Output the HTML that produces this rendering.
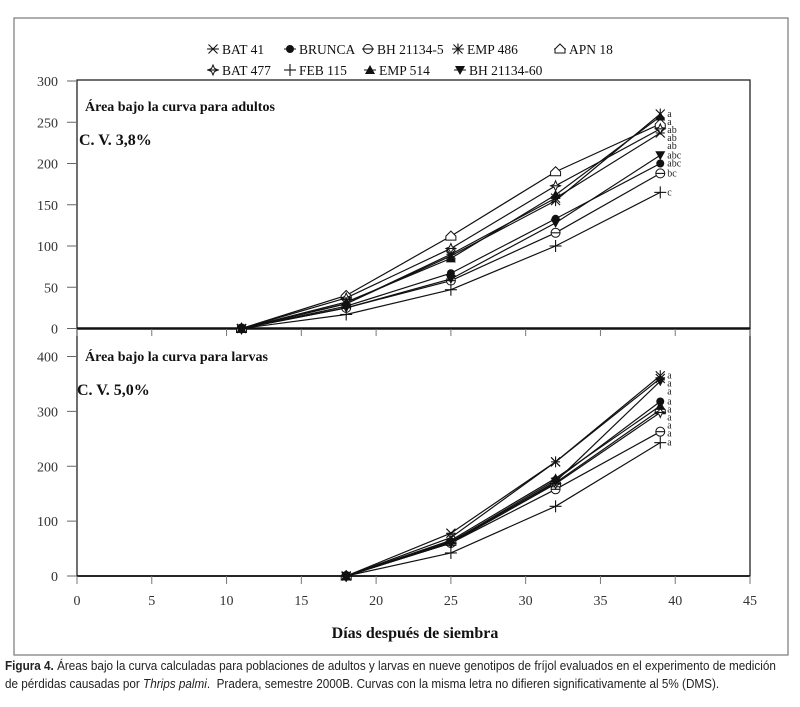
<!DOCTYPE html>
<html><head><meta charset="utf-8"><style>
html,body{margin:0;padding:0;background:#fff;}
svg{display:block;font-family:"Liberation Serif",serif;}
.cap{position:absolute;left:5px;top:657px;width:800px;font-family:"Liberation Sans Narrow","Liberation Sans",sans-serif;font-size:12.6px;line-height:18px;color:#222;transform:scaleX(0.93);transform-origin:0 0;white-space:nowrap;}
</style></head><body>
<div style="position:relative;width:800px;height:707px;">
<svg id="chart" width="800" height="707"></svg>
<div class="cap"><b>Figura 4.</b> Áreas bajo la curva calculadas para poblaciones de adultos y larvas en nueve genotipos de fríjol evaluados en el experimento de medición<br>de pérdidas causadas por <i>Thrips palmi</i>.&nbsp; Pradera, semestre 2000B. Curvas con la misma letra no difieren significativamente al 5% (DMS).</div>
</div>
<script>
const seriesNames=["BAT 41","BRUNCA","BH 21134-5","EMP 486","APN 18","BAT 477","FEB 115","EMP 514","BH 21134-60"];
const markers=["xbar","dot","ocirc","star","house","burst","plus","tri","dtri"];
const daysTop=[11,18,25,32,39];
const adultBAT41=[0,30,90,158,237];
const adultBRUNCA=[0,27,67,133,200];
const adultBH5=[0,25,58,116,188];
const adultEMP486=[0,30,88,155,260];
const adultAPN18=[0,40,112,190,248];
const adultBAT477=[0,37,97,173,242];
const adultFEB115=[0,17,47,100,165];
const adultEMP514=[0,32,85,162,257];
const adultBH60=[0,25,60,128,210];
const daysBot=[18,25,32,39];
const larvaBAT41=[0,78,208,360];
const larvaBRUNCA=[0,62,175,318];
const larvaBH5=[0,60,158,263];
const larvaEMP486=[0,70,208,365];
const larvaAPN18=[0,63,170,303];
const larvaBAT477=[0,60,168,298];
const larvaFEB115=[0,42,127,243];
const larvaEMP514=[0,65,178,310];
const larvaBH60=[0,60,172,355];
const adultLetters=["ab","abc","bc","a","ab","ab","c","a","abc"];
const larvaLetters=["a","a","a","a","a","a","a","a","a"];
const xTicks=[0,5,10,15,20,25,30,35,40,45];
const yTicksTop=[0,50,100,150,200,250,300];
const yTicksBot=[0,100,200,300,400];

const adults=[adultBAT41,adultBRUNCA,adultBH5,adultEMP486,adultAPN18,adultBAT477,adultFEB115,adultEMP514,adultBH60];
const larvae=[larvaBAT41,larvaBRUNCA,larvaBH5,larvaEMP486,larvaAPN18,larvaBAT477,larvaFEB115,larvaEMP514,larvaBH60];
const NS="http://www.w3.org/2000/svg";
const svg=document.getElementById('chart');
const X0=77,X1=750;
const xs=v=>X0+(v/45)*(X1-X0);
const yTop=v=>328.5-v*(328.5-81)/300;
const yBot=v=>576-v*(576-356.5)/400;
function mk(tag,attrs,parent){const e=document.createElementNS(NS,tag);for(const k in attrs)e.setAttribute(k,attrs[k]);(parent||svg).appendChild(e);return e;}
function txt(s,x,y,attrs,parent){const t=mk('text',Object.assign({x:x,y:y},attrs),parent);t.textContent=s;return t;}
const fr=mk('rect',{x:14,y:18,width:774,height:637,fill:'none',stroke:'#777','stroke-width':1.2});

const bt=mk('rect',{x:X0,y:80,width:X1-X0,height:248.5,fill:'none',stroke:'#222','stroke-width':1.3});

const bb=mk('rect',{x:X0,y:328.5,width:X1-X0,height:247.5,fill:'none',stroke:'#222','stroke-width':1.3});

mk('line',{x1:X0,y1:328.5,x2:X1,y2:328.5,stroke:'#111','stroke-width':2.5});
mk('line',{x1:X0,y1:576,x2:X1,y2:576,stroke:'#111','stroke-width':1.8});
yTicksTop.forEach(v=>{const y=yTop(v);mk('line',{x1:67,y1:y,x2:X0,y2:y,stroke:'#666'});
 const t=txt(String(v),58,y+5,{'text-anchor':'end','font-size':14,fill:'#333'});
 });
yTicksBot.forEach(v=>{const y=yBot(v);mk('line',{x1:67,y1:y,x2:X0,y2:y,stroke:'#666'});
 const t=txt(String(v),58,y+5,{'text-anchor':'end','font-size':14,fill:'#333'});
 });
xTicks.forEach(v=>{const x=xs(v);
 mk('line',{x1:x,y1:329,x2:x,y2:336,stroke:'#777'});
 mk('line',{x1:x,y1:576,x2:x,y2:584,stroke:'#777'});
 const t=txt(String(v),x,605,{'text-anchor':'middle','font-size':14,fill:'#333'});
 });
const xt=txt('Días después de siembra',415,638,{'text-anchor':'middle','font-size':16,'font-weight':'bold',fill:'#111'});

let t1=txt('Área bajo la curva para adultos',85,111,{'font-size':14,'font-weight':'bold',fill:'#111'});

let t2=txt('C. V. 3,8%',79,145,{'font-size':16,'font-weight':'bold',fill:'#111'});

let t3=txt('Área bajo la curva para larvas',85,361,{'font-size':14,'font-weight':'bold',fill:'#111'});

let t4=txt('C. V. 5,0%',77,395,{'font-size':16,'font-weight':'bold',fill:'#111'});


function marker(type,x,y,g){
 const s=4.5,c='#111';
 const L=(a,b,c2,d)=>mk('line',{x1:a,y1:b,x2:c2,y2:d,stroke:c,'stroke-width':1.1},g);
 switch(type){
 case 'xbar':L(x-s,y-s,x+s,y+s);L(x-s,y+s,x+s,y-s);L(x-s,y,x+s,y);break;
 case 'dot':mk('circle',{cx:x,cy:y,r:4,fill:c},g);break;
 case 'ocirc':mk('circle',{cx:x,cy:y,r:4.5,fill:'#fff',stroke:c},g);L(x-4.5,y,x+4.5,y);break;
 case 'star':L(x-s,y-s,x+s,y+s);L(x-s,y+s,x+s,y-s);L(x,y-s-1,x,y+s+1);break;
 case 'house':mk('polygon',{points:`${x-5},${y+4} ${x+5},${y+4} ${x+5},${y} ${x},${y-5} ${x-5},${y}`,fill:'#fff',stroke:c},g);break;
 case 'burst':mk('polygon',{points:`${x},${y-5} ${x+1.5},${y-1.5} ${x+5},${y} ${x+1.5},${y+1.5} ${x},${y+5} ${x-1.5},${y+1.5} ${x-5},${y} ${x-1.5},${y-1.5}`,fill:'#fff',stroke:c},g);L(x-5,y,x+5,y);break;
 case 'plus':L(x-6,y,x+6,y);L(x,y-6,x,y+6);break;
 case 'tri':mk('polygon',{points:`${x-5},${y+4} ${x+5},${y+4} ${x},${y-5}`,fill:c},g);break;
 case 'dtri':mk('polygon',{points:`${x-5},${y-4} ${x+5},${y-4} ${x},${y+5}`,fill:c},g);break;
 }
}
function drawPanel(days,data,yf,letters,prefix){
 data.forEach((vals,i)=>{
  const g=mk('g',{});
  
  
  mk('polyline',{points:vals.map((v,j)=>xs(days[j])+','+yf(v)).join(' '),fill:'none',stroke:'#111','stroke-width':1.2},g);
  vals.forEach((v,j)=>marker(markers[i],xs(days[j]),yf(v),g));
 });
 const last=data.map((v,i)=>({i:i,v:v[v.length-1]})).sort((a,b)=>b.v-a.v);
 let prev=-1e9;
 last.forEach(o=>{let y=yf(o.v)+3;if(y<prev+8)y=prev+8;prev=y;
  const t=txt(letters[o.i],xs(days[days.length-1])+7,y,{'font-size':10,fill:'#222'});
  });
}
drawPanel(daysTop,adults,yTop,adultLetters,'adults');
drawPanel(daysBot,larvae,yBot,larvaLetters,'larvae');
const legPos=[[213,49],[290,49],[368,49],[458,49],[560,49],[213,70],[290,70],[370,70],[460,70]];
seriesNames.forEach((n,i)=>{
 const g=mk('g',{});
 
 
 const [x,y]=legPos[i];
 mk('line',{x1:x-6,y1:y,x2:x+6,y2:y,stroke:'#111','stroke-width':1},g);
 marker(markers[i],x,y,g);
 txt(n,x+9,y+5,{'font-size':13.5,fill:'#111'},g);
});
</script>
</body></html>
